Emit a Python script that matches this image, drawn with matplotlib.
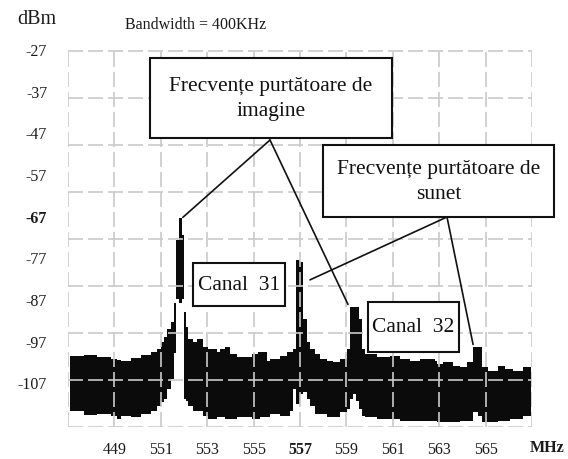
import numpy as np
import matplotlib
matplotlib.use('Agg')
import matplotlib.pyplot as plt
from matplotlib.patches import Rectangle

plt.rcParams['font.family'] = ['Liberation Serif', 'DejaVu Serif']

# spectrum trace: bin start (MHz), max-hold and min-hold (dBm)
freq = [547.09, 547.69, 548.25, 548.85, 549.11, 549.28, 549.72, 550.15, 550.58, 550.84,
        551.01, 551.14, 551.27, 551.44, 551.57, 551.66, 551.78, 551.91, 552.00, 552.08,
        552.17, 552.39, 552.56, 552.82, 553.03, 553.42, 553.55, 553.77, 553.98, 554.28,
        554.93, 555.19, 555.28, 555.58, 555.71, 556.14, 556.44, 556.57, 556.70, 556.83,
        557.00, 557.13, 557.30, 557.43, 557.65, 557.86, 558.16, 558.42, 558.72, 559.03,
        559.16, 559.29, 559.42, 559.55, 559.68, 559.80, 560.32, 560.88, 561.31, 561.74,
        562.17, 562.82, 562.91, 563.16, 563.59, 563.90, 564.20, 564.46, 564.67, 564.84,
        565.10, 565.53, 565.84, 566.05, 566.18, 566.61, 566.95]
upper = [-100.7, -100.5, -101.0, -101.5, -101.7, -101.9, -101.2, -100.5, -99.8, -99.1,
         -97.4, -96.2, -94.3, -92.4, -88.0, -72.8, -67.6, -71.6, -90.2, -93.6,
         -96.7, -97.4, -96.7, -98.6, -99.1, -99.6, -99.1, -98.6, -100.3, -101.0,
         -100.3, -99.8, -99.8, -101.9, -101.5, -100.7, -99.8, -99.8, -99.1, -77.6,
         -78.1, -91.9, -97.4, -99.1, -100.3, -101.5, -101.9, -102.2, -101.5, -99.1,
         -88.8, -88.8, -88.8, -91.9, -99.1, -100.3, -101.0, -100.7, -101.5, -101.9,
         -101.5, -101.9, -102.7, -102.2, -103.1, -103.4, -102.2, -98.4, -98.6, -103.4,
         -104.3, -103.1, -103.8, -103.8, -104.3, -103.4, -103.4]
lower = [-113.9, -114.8, -114.6, -115.1, -115.8, -115.1, -115.3, -114.6, -113.9, -112.7,
         -111.7, -111.0, -108.6, -106.2, -100.0, -87.1, -87.9, -87.1, -111.0, -111.5,
         -112.7, -113.9, -113.9, -115.1, -115.8, -115.3, -115.3, -115.8, -115.8, -115.3,
         -115.8, -115.8, -115.3, -115.3, -114.6, -115.1, -115.1, -113.9, -108.6, -112.2,
         -109.8, -109.3, -111.0, -112.7, -114.6, -114.6, -115.3, -115.3, -114.1, -113.4,
         -111.0, -109.8, -111.5, -113.4, -115.1, -115.3, -115.8, -115.8, -116.3, -116.3,
         -116.3, -116.3, -116.5, -116.5, -116.5, -116.3, -116.3, -114.1, -115.1, -116.5,
         -116.5, -116.3, -116.3, -115.8, -115.8, -115.1, -115.1]

xticks = [549, 551, 553, 555, 557, 559, 561, 563, 565]
xlabels = ['449', '551', '553', '555', '557', '559', '561', '563', '565']
yticks = [-27, -37, -47, -57, -67, -77, -87, -97, -107]

# annotated carriers (MHz, dBm)
img_carriers = [(551.95, -67.4), (559.07, -88.3)]
snd_carriers = [(557.43, -82.4), (564.46, -97.9)]

W, H = 568, 460
fig = plt.figure(figsize=(W / 100, H / 100), dpi=100)
ax = fig.add_axes([68 / W, 32 / H, 464 / W, 378 / H])

ax.fill_between(freq, upper, lower, step='post', color='#0b0b0b', lw=0, zorder=2)

ax.set_xlim(547, 567)
ax.set_ylim(-117.7, -27.5)

# dashed grid, also forming the frame
gcol = '#cacaca'
for gx in np.arange(547, 568, 2):
    ax.axvline(gx, color=gcol, lw=1.2, ls=(0, (9, 3)), zorder=3)
for gy in np.linspace(-117.7, -27.5, 9):
    ax.axhline(gy, color=gcol, lw=1.2, ls=(0, (9, 3)), zorder=3)
for s in ax.spines.values():
    s.set_visible(False)

ax.set_xticks(xticks)
ax.set_xticklabels(xlabels)
ax.set_yticks(yticks)
ax.set_yticklabels([str(v) for v in yticks])
ax.tick_params(length=0, labelsize=11.5, colors='#1a1a1a')
ax.tick_params(axis='x', pad=10)
ax.tick_params(axis='y', pad=15)
ax.get_xticklabels()[4].set_fontweight('bold')
ax.get_yticklabels()[4].set_fontweight('bold')

fig.text(547 / W, 1 - 448 / H, 'MHz', ha='center', va='center', fontsize=11.5,
         fontweight='bold', color='#1a1a1a')
fig.text(37 / W, 1 - 20 / H, 'dBm', ha='center', va='center', fontsize=14.5, color='#1a1a1a')
fig.text(196 / W, 1 - 25 / H, 'Bandwidth = 400KHz', ha='center', va='center',
         fontsize=11.5, color='#1a1a1a')


def box(x0, y0, x1, y1, text):
    fig.add_artist(Rectangle((x0 / W, 1 - y1 / H), (x1 - x0) / W, (y1 - y0) / H,
                             transform=fig.transFigure, facecolor='white',
                             edgecolor='#111111', lw=1.5, zorder=10))
    fig.text((x0 + x1) / 2 / W, 1 - (y0 + y1) / 2 / H, text, ha='center', va='center',
             fontsize=15.5, color='#111111', zorder=11, linespacing=1.45)


for pt in img_carriers:
    ax.annotate('', xy=pt, xycoords='data', xytext=(270, H - 141),
                textcoords='figure pixels',
                arrowprops=dict(arrowstyle='-', color='#111111', lw=1.2,
                                shrinkA=0, shrinkB=0), zorder=9)
for pt in snd_carriers:
    ax.annotate('', xy=pt, xycoords='data', xytext=(447, H - 218),
                textcoords='figure pixels',
                arrowprops=dict(arrowstyle='-', color='#111111', lw=1.2,
                                shrinkA=0, shrinkB=0), zorder=9)

box(150, 59, 392, 139, 'Frecvențe purtătoare de\nimagine')
box(323, 146, 554, 218, 'Frecvențe purtătoare de\nsunet')
box(193, 264, 285, 307, 'Canal  31')
box(368, 303, 459, 353, 'Canal  32')

fig.savefig('out.png', dpi=100)
